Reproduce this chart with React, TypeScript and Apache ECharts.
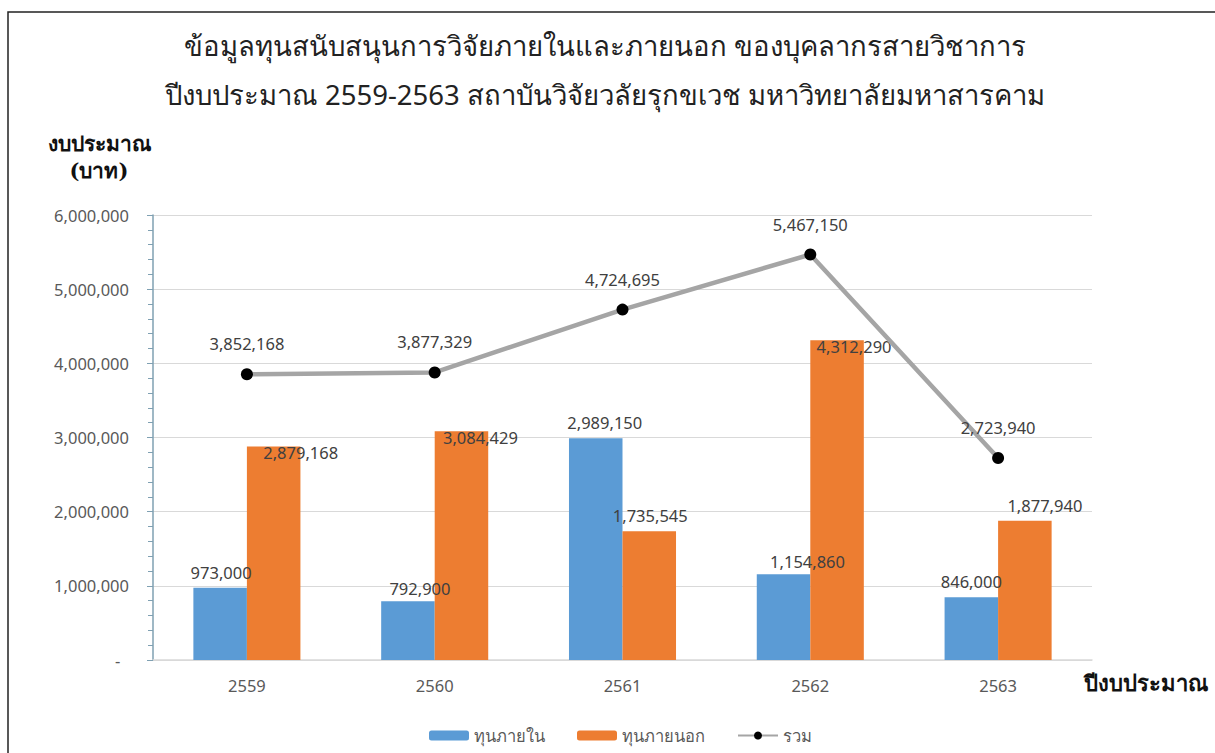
import React, { useEffect, useRef } from "react";
import * as echarts from "echarts";

const categories = ["2559", "2560", "2561", "2562", "2563"];
const internalFunds = [973000, 792900, 2989150, 1154860, 846000];
const externalFunds = [2879168, 3084429, 1735545, 4312290, 1877940];
const totals = [3852168, 3877329, 4724695, 5467150, 2723940];
const seriesNames = ["ทุนภายใน", "ทุนภายนอก", "รวม"];
const titleLines = [
  "ข้อมูลทุนสนับสนุนการวิจัยภายในและภายนอก ของบุคลากรสายวิชาการ",
  "ปีงบประมาณ 2559-2563 สถาบันวิจัยวลัยรุกขเวช มหาวิทยาลัยมหาสารคาม",
];
const yAxisTitle = "งบประมาณ\n(บาท)";
const xAxisTitle = "ปีงบประมาณ";

// label placement tweaks (layout only)
const internalLabelOffsets = [[1, 0], [12, 3], [9, 0], [24, 3], [0, 0]];
const externalLabelOffsets = [[27, 22], [19, 22], [1, 0], [17, 22], [20, 0]];

const fmt = (v: number) => v.toLocaleString("en-US");
const FONT = "'Noto Sans', 'Open Sans', sans-serif";

export default function App() {
  const ref = useRef<HTMLDivElement>(null);
  useEffect(() => {
    const chart = echarts.init(ref.current!, undefined, { renderer: "svg" });
    const labelBase = { show: true, color: "#404040", fontSize: 16.5, fontFamily: FONT, formatter: (p: any) => fmt(p.value) };
    chart.setOption({
      animation: false,
      backgroundColor: "#fff",
      textStyle: { fontFamily: FONT },
      title: {
        text: titleLines.join("\n"),
        left: 600,
        textAlign: "center",
        top: 16,
        textStyle: { fontSize: 27.5, fontWeight: "normal", color: "#222", lineHeight: 49, fontFamily: FONT },
      },
      graphic: [
        { type: "rect", shape: { x: 8, y: 12, width: 1230, height: 760 }, style: { fill: "none", stroke: "#222", lineWidth: 1.5 }, silent: true },
        { type: "text", x: 99, y: 130, style: { text: yAxisTitle, fontSize: 21, fontWeight: "bold", fill: "#111", align: "center", lineHeight: 27, fontFamily: "'DejaVu Serif', serif" } },
        { type: "text", x: 1084, y: 672, style: { text: xAxisTitle, fontSize: 22, fontWeight: "bold", fill: "#111", align: "left", fontFamily: "'DejaVu Serif', serif" } },
      ],
      legend: {
        bottom: 4,
        left: 424,
        itemWidth: 40,
        itemHeight: 10,
        itemGap: 32,
        textStyle: { fontSize: 16.5, color: "#595959", fontFamily: FONT },
        data: seriesNames,
      },
      grid: { left: 153, right: 123, top: 215, bottom: 93 },
      xAxis: {
        type: "category",
        data: categories,
        axisLine: { lineStyle: { color: "#d9d9d9", width: 1.5 } },
        axisTick: { show: false },
        axisLabel: { color: "#595959", fontSize: 16.5, margin: 17, fontFamily: FONT },
      },
      yAxis: {
        type: "value",
        min: 0,
        max: 6000000,
        interval: 1000000,
        axisLine: { show: true, lineStyle: { color: "#7fa0b2", width: 1.5 } },
        axisTick: { show: true, length: 6, lineStyle: { color: "#7fa0b2" } },
        minorTick: { show: true, splitNumber: 5, length: 5, lineStyle: { color: "#7fa0b2" } },
        splitLine: { lineStyle: { color: "#d9d9d9", width: 1 } },
        axisLabel: {
          color: "#595959",
          fontSize: 16.5,
          margin: 24,
          fontFamily: FONT,
          formatter: (v: number) => (v === 0 ? "-  " : fmt(v)),
        },
      },
      series: [
        {
          name: seriesNames[0],
          type: "bar",
          barGap: "0%",
          barCategoryGap: "43%",
          itemStyle: { color: "#5b9bd5" },
          data: internalFunds.map((v, i) => ({ value: v, label: { ...labelBase, position: "top", distance: 7, offset: internalLabelOffsets[i] } })),
        },
        {
          name: seriesNames[1],
          type: "bar",
          itemStyle: { color: "#ed7d31" },
          data: externalFunds.map((v, i) => ({ value: v, label: { ...labelBase, position: "top", distance: 7, offset: externalLabelOffsets[i] } })),
        },
        {
          name: seriesNames[2],
          type: "line",
          data: totals,
          symbol: "circle",
          symbolSize: 12,
          itemStyle: { color: "#000" },
          lineStyle: { color: "#a5a5a5", width: 4.5 },
          label: { ...labelBase, position: "top", distance: 16 },
          z: 5,
        },
      ],
    });
    return () => chart.dispose();
  }, []);
  return <div ref={ref} style={{ position: "fixed", left: 0, top: 0, width: 1215, height: 753 }} />;
}
